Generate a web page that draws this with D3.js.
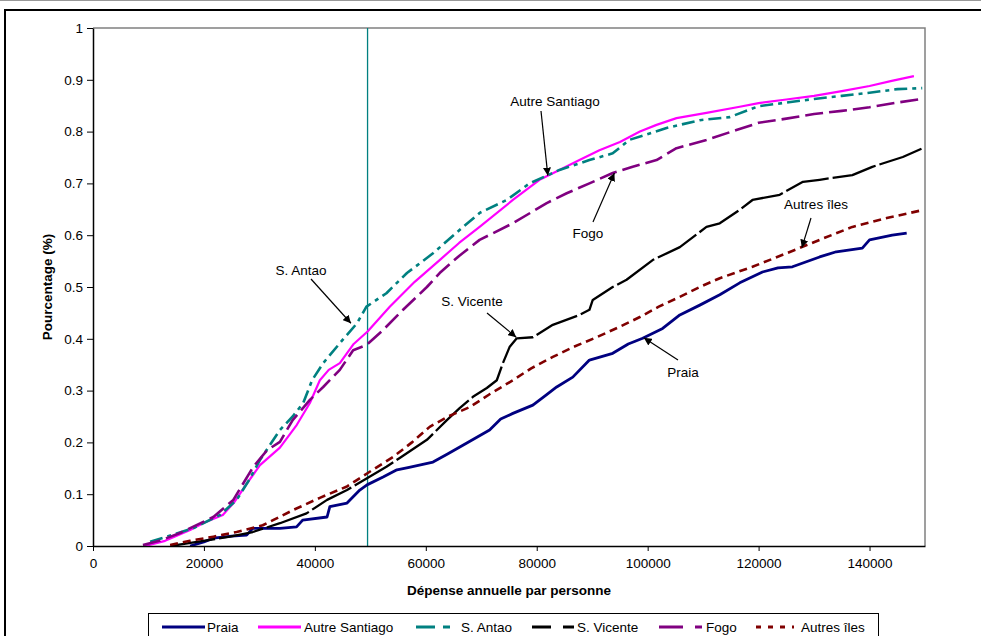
<!DOCTYPE html>
<html><head><meta charset="utf-8">
<script src="https://d3js.org/d3.v7.min.js"></script>
<style>body{margin:0;background:#fff}svg{display:block}text{font-family:"Liberation Sans",Arial,sans-serif}</style>
</head><body><svg id="c" width="981" height="636"></svg>
<script>
const xTicks = [0,20000,40000,60000,80000,100000,120000,140000];
const yTicks = [0,0.1,0.2,0.3,0.4,0.5,0.6,0.7,0.8,0.9,1];
const refLineX = 49500;

const praia = [[17500,0],[20000,0.008],[21700,0.015],[25000,0.019],[27700,0.021],[28800,0.034],[33700,0.034],[36700,0.037],[37800,0.05],[42200,0.056],[42700,0.076],[45800,0.083],[48100,0.108],[49400,0.118],[52300,0.133],[54800,0.147],[57000,0.152],[61300,0.162],[64000,0.178],[67400,0.199],[71500,0.224],[73500,0.245],[75700,0.256],[79300,0.272],[81500,0.29],[83600,0.307],[86500,0.326],[89500,0.359],[93700,0.372],[96500,0.39],[99100,0.401],[102700,0.42],[105800,0.446],[109400,0.465],[113000,0.485],[116600,0.508],[120700,0.529],[123500,0.537],[126100,0.539],[131000,0.558],[134000,0.568],[138700,0.575],[140000,0.591],[144100,0.60],[146700,0.604]];
const autreSantiago = [[9400,0],[13000,0.01],[17500,0.031],[20000,0.045],[23400,0.06],[25500,0.085],[27700,0.12],[30100,0.156],[33700,0.19],[36750,0.234],[39100,0.276],[40900,0.32],[42500,0.34],[44500,0.353],[47000,0.39],[49500,0.414],[53500,0.462],[58000,0.51],[62500,0.552],[66000,0.585],[69700,0.616],[75700,0.668],[80500,0.707],[84100,0.726],[87700,0.745],[91300,0.764],[95000,0.78],[98600,0.80],[101600,0.813],[105200,0.826],[110600,0.836],[116600,0.848],[120000,0.855],[125000,0.862],[130000,0.869],[135000,0.878],[140000,0.888],[144000,0.898],[148000,0.907]];
const sAntao = [[10300,0.008],[13300,0.018],[18000,0.034],[22900,0.06],[25900,0.089],[28000,0.125],[30100,0.166],[33700,0.224],[36000,0.25],[37900,0.276],[39500,0.32],[41500,0.353],[45000,0.398],[47600,0.43],[49300,0.462],[52900,0.488],[56600,0.527],[61300,0.565],[65000,0.60],[69700,0.643],[74600,0.668],[78700,0.70],[84100,0.726],[89500,0.745],[93700,0.758],[96700,0.784],[103400,0.807],[109400,0.822],[114800,0.828],[120000,0.849],[125000,0.856],[130000,0.863],[135000,0.869],[140000,0.875],[145000,0.882],[149500,0.884]];
const sVicente = [[14000,0],[17000,0.005],[20500,0.011],[24700,0.018],[28800,0.027],[33700,0.044],[38500,0.063],[42200,0.089],[45800,0.108],[49400,0.131],[52900,0.153],[55300,0.17],[60200,0.205],[63800,0.243],[66100,0.266],[68500,0.288],[71000,0.305],[72800,0.32],[73900,0.353],[75100,0.384],[76400,0.401],[79300,0.403],[82900,0.427],[87700,0.446],[89500,0.456],[90100,0.475],[93700,0.50],[96200,0.514],[100900,0.552],[105800,0.577],[110600,0.616],[113000,0.623],[116600,0.649],[118900,0.668],[123800,0.678],[128000,0.703],[131000,0.707],[136900,0.716],[140500,0.732],[146000,0.751],[149800,0.769]];
const fogo = [[9000,0.002],[12000,0.01],[15700,0.025],[21700,0.056],[25300,0.089],[28900,0.153],[31400,0.185],[33700,0.201],[36000,0.243],[39100,0.282],[41500,0.307],[44500,0.34],[46900,0.378],[49300,0.388],[52300,0.417],[55900,0.456],[60200,0.50],[62500,0.527],[66000,0.56],[69700,0.591],[75700,0.623],[81800,0.662],[85400,0.681],[89500,0.70],[93700,0.72],[97300,0.732],[101600,0.745],[105200,0.768],[110600,0.784],[116000,0.803],[120000,0.817],[125000,0.825],[130000,0.834],[135000,0.84],[140000,0.847],[145000,0.856],[149500,0.863]];
const autresIles = [[13900,0.002],[17500,0.01],[21700,0.018],[25900,0.027],[30600,0.04],[36000,0.069],[40900,0.093],[45800,0.115],[49400,0.14],[54100,0.172],[57500,0.2],[60700,0.23],[64000,0.25],[67900,0.268],[71500,0.293],[75700,0.32],[79000,0.343],[82900,0.365],[86800,0.385],[90800,0.403],[94700,0.422],[98600,0.442],[102000,0.462],[105800,0.481],[109400,0.50],[113000,0.517],[118900,0.539],[125000,0.565],[131000,0.591],[136900,0.616],[143100,0.633],[149800,0.649]];

const seriesNames = ["Praia","Autre Santiago","S. Antao","S. Vicente","Fogo","Autres îles"];
const seriesData = [praia, autreSantiago, sAntao, sVicente, fogo, autresIles];
const seriesColors = ["#000080","#FF00FF","#008080","#000000","#800080","#800000"];
const seriesDash = [null,null,"13,5,4,5","45,4","18,6","8,5"];
const legendDash = [null,null,"19,8,7,8","19,12","24,12","5,7"];
const seriesWidth = [2.8,2.2,2.6,2.3,2.6,2.6];

const annotations = [
  {text:"Autre Santiago", tx:555, ty:106, x1:541, y1:111, x:82000, y:0.715},
  {text:"Fogo", tx:588, ty:238, x1:593, y1:222, x:94000, y:0.72},
  {text:"S. Antao", tx:301, ty:275, x1:311, y1:279, x:46500, y:0.43},
  {text:"S. Vicente", tx:472, ty:306, x1:487, y1:313, x:76300, y:0.403},
  {text:"Praia", tx:683, ty:377, x1:678, y1:360, x:99300, y:0.402},
  {text:"Autres îles", tx:816, ty:209, x1:811, y1:218, x:127800, y:0.576}
];

const FS = 13.5;
const svg = d3.select("#c");
// outer frame
svg.append("line").attr("x1",0).attr("x2",981).attr("y1",0.5).attr("y2",0.5).attr("stroke","#999").attr("stroke-width",1);
svg.append("rect").attr("x",5).attr("y",10).attr("width",1000).attr("height",700).attr("fill","none").attr("stroke","#000").attr("stroke-width",2);

const L=93,R=925,T=28,B=546;
const x = d3.scaleLinear().domain([0,150000]).range([L,R]);
const y = d3.scaleLinear().domain([0,1]).range([B,T]);

svg.append("path").attr("d",`M${L},${T}H${R}V${B}`).attr("fill","none").attr("stroke","#808080").attr("stroke-width",1.5);

const defs = svg.append("defs");
defs.append("clipPath").attr("id","clip").append("rect").attr("x",L).attr("y",T).attr("width",R-L).attr("height",B-T);

svg.append("line").attr("x1",x(refLineX)).attr("x2",x(refLineX)).attr("y1",T).attr("y2",B).attr("stroke","#008080").attr("stroke-width",1.3);

const line = d3.line().x(d=>x(d[0])).y(d=>y(d[1]));
const g = svg.append("g").attr("clip-path","url(#clip)");
seriesData.forEach((d,i)=>{
  g.append("path").datum(d).attr("d",line).attr("fill","none")
   .attr("stroke",seriesColors[i]).attr("stroke-width",seriesWidth[i])
   .attr("stroke-dasharray",seriesDash[i]).attr("stroke-linejoin","round");
});

const xAxis = svg.append("g").attr("transform",`translate(0,${B})`)
  .call(d3.axisBottom(x).tickValues(xTicks).tickSize(5).tickSizeOuter(0).tickFormat(d3.format("d")).tickPadding(7));
const yAxis = svg.append("g").attr("transform",`translate(${L},0)`)
  .call(d3.axisLeft(y).tickValues(yTicks).tickSize(6).tickSizeOuter(0).tickFormat(d=>d===0?"0":(d===1?"1":d3.format(".1f")(d))).tickPadding(4));
[xAxis,yAxis].forEach(a=>{
  a.selectAll("text").attr("font-size",FS).attr("fill","#000").style("font-family","'Liberation Sans',Arial,sans-serif");
  a.select(".domain").attr("stroke","#000").attr("stroke-width",1.5);
  a.selectAll(".tick line").attr("stroke","#000");
});

svg.append("text").attr("x",509).attr("y",595).attr("text-anchor","middle").attr("font-size",FS).attr("font-weight","bold").text("Dépense annuelle par personne");
svg.append("text").attr("transform","translate(52,287) rotate(-90)").attr("text-anchor","middle").attr("font-size",FS).attr("font-weight","bold").text("Pourcentage (%)");

defs.append("marker").attr("id","arr").attr("viewBox","0 0 10 10").attr("refX",10).attr("refY",5)
  .attr("markerWidth",8).attr("markerHeight",8).attr("orient","auto").attr("markerUnits","userSpaceOnUse")
  .append("path").attr("d","M0,0L10,5L0,10z").attr("fill","#000");
annotations.forEach(a=>{
  svg.append("line").attr("x1",a.x1).attr("y1",a.y1).attr("x2",x(a.x)).attr("y2",y(a.y))
    .attr("stroke","#000").attr("stroke-width",1.2).attr("marker-end","url(#arr)");
  svg.append("text").attr("x",a.tx).attr("y",a.ty).attr("text-anchor","middle").attr("font-size",FS).attr("fill","#000").text(a.text);
});

// legend
svg.append("rect").attr("x",148.5).attr("y",613.5).attr("width",730).attr("height",40).attr("fill","#fff").attr("stroke","#000").attr("stroke-width",1);
const legX = [162,258,416,532,659,756];
const legLen = [43,43,35,42,43,38];
const legTextX = [207,304,461,577,706,801];
seriesNames.forEach((n,i)=>{
  svg.append("line").attr("x1",legX[i]).attr("x2",legX[i]+legLen[i]).attr("y1",627).attr("y2",627)
    .attr("stroke",seriesColors[i]).attr("stroke-width",3).attr("stroke-dasharray",legendDash[i]);
  svg.append("text").attr("x",legTextX[i]).attr("y",632).attr("font-size",FS).text(n);
});
</script></body></html>
